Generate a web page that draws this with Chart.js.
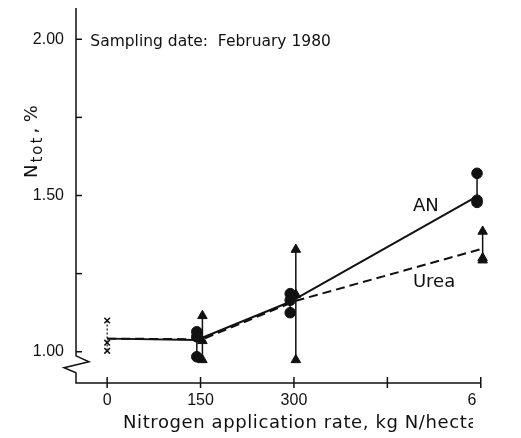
<!DOCTYPE html>
<html>
<head>
<meta charset="utf-8">
<script src="https://cdn.jsdelivr.net/npm/chart.js@4.4.1/dist/chart.umd.min.js"></script>
<style>
    html, body { margin: 0; padding: 0; background: #fff; }
    #chart { display: block; width: 521px; height: 438px; }
</style>
</head>
<body>
<canvas id="chart" width="521" height="438"></canvas>
<script>
// Eksen değerleri
const xTickValues = [0, 150, 300, 450, 600];
const xLabelled = [0, 150, 300, 600];
const yTickValues = [1.00, 1.25, 1.50, 1.75, 2.00];
const yLabelled = [1.00, 1.50, 2.00];

// Ortalama çizgileri (0, 150, 300, 600 kg N/ha)
const rates = [0, 150, 300, 600];
const anMean = [1.042, 1.038, 1.160, 1.497];
const ureaMean = [1.042, 1.040, 1.163, 1.330];

// Tekrar ölçümleri
const controlN = [1.100, 1.029, 1.003];
const repRates = [150, 300, 600];
const anN = [[1.064, 1.048, 0.984], [1.186, 1.165, 1.125], [1.571, 1.485, 1.478]];
const ureaN = [[1.115, 1.035, 0.974], [1.327, 1.183, 0.974], [1.385, 1.300, 1.293]];

// Noktalar yan yana çizilmiş (küçük kaydırma)
const anShift = -6;
const ureaShift = 3;

const ink = '#111';
// taranmış şeklin sağ kenarı kesik
const tickCutX = 476;
const titleCutX = 473;

function points(groups, shift) {
    const out = [];
    groups.forEach((vals, i) => vals.forEach(v => out.push({ x: repRates[i] + shift, y: v })));
    return out;
}

function rangeBars(groups, shift) {
    const out = [];
    groups.forEach((vals, i) => {
        const x = repRates[i] + shift;
        out.push({ x: x, y: Math.max(...vals) }, { x: x, y: Math.min(...vals) }, { x: x, y: null });
    });
    return out;
}

function meanLine(means, shift) {
    return means.map((v, i) => ({ x: rates[i] === 0 ? 0 : rates[i] + shift, y: v }));
}

const annotations = {
    id: 'annotations',
    afterDraw(chart) {
        const ctx = chart.ctx;
        const xs = chart.scales.x;
        const ys = chart.scales.y;
        const area = chart.chartArea;
        ctx.save();
        ctx.strokeStyle = ink;
        ctx.fillStyle = ink;
        ctx.lineWidth = 1.5;

        // y ekseni, kırık işaretiyle
        const ax = area.left;
        const b = ys.getPixelForValue(0.955);
        ctx.beginPath();
        ctx.moveTo(ax, area.top);
        ctx.lineTo(ax, b - 10);
        ctx.lineTo(ax + 13, b - 4);
        ctx.lineTo(ax - 12, b + 2);
        ctx.lineTo(ax, b + 7);
        ctx.lineTo(ax, area.bottom);
        // x ekseni 600'e kadar
        ctx.lineTo(xs.getPixelForValue(600), area.bottom);
        ctx.stroke();

        // y çentikleri içe doğru
        yTickValues.forEach(v => {
            const y = ys.getPixelForValue(v);
            ctx.beginPath();
            ctx.moveTo(ax, y);
            ctx.lineTo(ax + 6, y);
            ctx.stroke();
        });

        // x çentikleri eksenin iki yanına
        xTickValues.forEach(v => {
            const x = xs.getPixelForValue(v);
            ctx.beginPath();
            ctx.moveTo(x, area.bottom - 6);
            ctx.lineTo(x, area.bottom + 5);
            ctx.stroke();
        });

        // Metinler
        ctx.textBaseline = 'alphabetic';
        ctx.textAlign = 'left';
        ctx.font = '15.5px "DejaVu Sans"';
        ctx.fillText('Sampling date:  February 1980', xs.getPixelForValue(-27), ys.getPixelForValue(1.978));

        ctx.font = '18px "DejaVu Sans"';
        ctx.fillText('AN', xs.getPixelForValue(491), ys.getPixelForValue(1.449));
        ctx.fillText('Urea', xs.getPixelForValue(491), ys.getPixelForValue(1.208));

        // x etiketleri (kesik)
        ctx.save();
        ctx.beginPath();
        ctx.rect(0, area.bottom + 6, tickCutX, 25);
        ctx.clip();
        ctx.font = '16px "Liberation Sans Narrow", "Liberation Sans", sans-serif';
        ctx.textAlign = 'center';
        ctx.textBaseline = 'top';
        xLabelled.forEach(v => ctx.fillText(String(v), xs.getPixelForValue(v), area.bottom + 10));
        ctx.restore();

        // x ekseni başlığı (kesik)
        ctx.save();
        ctx.beginPath();
        ctx.rect(0, area.bottom + 31, titleCutX, chart.height);
        ctx.clip();
        ctx.textAlign = 'left';
        ctx.textBaseline = 'alphabetic';
        ctx.font = '18px "DejaVu Sans"';
        ctx.letterSpacing = '0.6px';
        ctx.fillText('Nitrogen application rate, kg N/hectare', 123, 428);
        ctx.letterSpacing = '0px';
        ctx.restore();

        // y ekseni başlığı (N_tot , %)
        ctx.translate(37, 178);
        ctx.rotate(-Math.PI / 2);
        ctx.font = '18px "DejaVu Sans"';
        ctx.fillText('N', 0, 0);
        let w = ctx.measureText('N').width + 2;
        ctx.font = '15px "DejaVu Sans"';
        ctx.letterSpacing = '2px';
        ctx.fillText('tot', w, 5);
        w += ctx.measureText('tot').width + 2;
        ctx.letterSpacing = '0px';
        ctx.font = '18px "DejaVu Sans"';
        ctx.fillText(', %', w, 0);
        ctx.restore();
    }
};

new Chart(document.getElementById('chart'), {
    type: 'scatter',
    data: {
        datasets: [
            {
                data: controlN.map(v => ({ x: 0, y: v })),
                pointStyle: 'crossRot',
                pointRadius: 4,
                borderColor: ink,
                borderWidth: 1.5,
                clip: false
            },
            {
                data: points(anN, anShift),
                pointStyle: 'circle',
                pointRadius: 5.3,
                backgroundColor: ink,
                borderColor: ink,
                borderWidth: 1,
                clip: false
            },
            {
                data: points(ureaN, ureaShift),
                pointStyle: 'triangle',
                pointRadius: 5.5,
                backgroundColor: ink,
                borderColor: ink,
                borderWidth: 1,
                clip: false
            },
            {
                type: 'line',
                data: meanLine(anMean, anShift),
                borderColor: ink,
                borderWidth: 2,
                pointRadius: 0,
                fill: false,
                clip: false
            },
            {
                type: 'line',
                data: meanLine(ureaMean, ureaShift),
                borderColor: ink,
                borderWidth: 2,
                borderDash: [9, 5],
                pointRadius: 0,
                fill: false,
                clip: false
            },
            {
                type: 'line',
                data: rangeBars(anN, anShift),
                borderColor: ink,
                borderWidth: 1.5,
                pointRadius: 0,
                spanGaps: false,
                clip: false
            },
            {
                type: 'line',
                data: rangeBars(ureaN, ureaShift),
                borderColor: ink,
                borderWidth: 1.5,
                pointRadius: 0,
                spanGaps: false,
                clip: false
            },
            {
                type: 'line',
                data: [{ x: 0, y: Math.max(...controlN) }, { x: 0, y: Math.min(...controlN) }],
                borderColor: ink,
                borderWidth: 1.2,
                borderDash: [2, 2],
                pointRadius: 0,
                clip: false
            }
        ]
    },
    options: {
        responsive: false,
        animation: false,
        layout: { padding: { top: 8, right: 34, left: 0, bottom: 0 } },
        plugins: {
            legend: { display: false },
            tooltip: { enabled: false }
        },
        scales: {
            x: {
                type: 'linear',
                min: -50,
                max: 610,
                afterBuildTicks: s => { s.ticks = xTickValues.map(v => ({ value: v })); },
                afterFit: s => {
                    s.height = 55;
                    s.paddingLeft = 0;
                    s.paddingRight = 0;
                },
                grid: { display: false },
                border: { display: false },
                ticks: { display: false }
            },
            y: {
                min: 0.9,
                max: 2.1,
                afterBuildTicks: s => { s.ticks = yTickValues.map(v => ({ value: v })); },
                afterFit: s => {
                    s.width = 76;
                    s.paddingTop = 0;
                    s.paddingBottom = 0;
                },
                grid: { display: false, drawTicks: false },
                border: { display: false },
                ticks: {
                    padding: 12,
                    color: ink,
                    font: { family: '"Liberation Sans Narrow", "Liberation Sans", sans-serif', size: 16 },
                    callback: v => yLabelled.includes(v) ? v.toFixed(2) : ''
                }
            }
        }
    },
    plugins: [annotations]
});
</script>
</body>
</html>
